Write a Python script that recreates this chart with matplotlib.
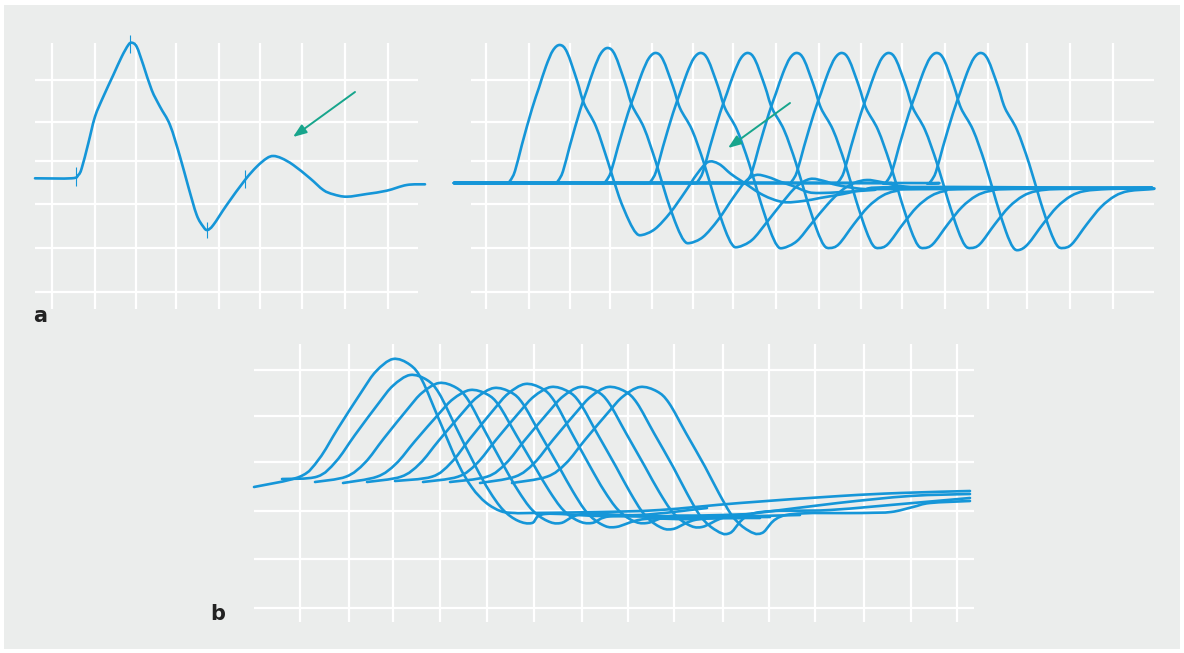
import numpy as np
import matplotlib
matplotlib.use('Agg')
import matplotlib.pyplot as plt
from matplotlib.patches import Rectangle, PathPatch
from matplotlib.path import Path

# all positions are in picture pixels (x to the right, y downwards)
BG = '#ebedec'
BLUE = '#1596d8'
TEAL = '#17a58c'

# ---------------- panel a, left: single trace ----------------
aL_hgrid = [80, 122, 161, 204, 248, 292]
aL_vgrid = [52, 95, 136, 176, 219, 260, 302, 345, 388]
aL_x = [35, 71.7, 78.3, 81.7, 88.3, 95, 103.3, 113.3, 121.7, 128.3, 131.7, 136.7, 143.3, 151.7,
        160, 170, 180, 188.3, 196.7, 203.3, 207.3, 213.3, 226.7, 245, 256.7, 266.7, 273.3,
        281.7, 293.3, 310, 323.3, 333.3, 346.7, 366.7, 386.7, 406.7, 425]
aL_y = [178.3, 178.3, 175, 168.3, 143.3, 116.7, 96.7, 75, 56.7, 45, 42.7, 46.7, 65, 90,
        106.7, 125, 156.7, 186.7, 215, 226.7, 230, 225, 205, 180, 166.7, 158.3, 156,
        158.3, 165, 178.3, 190, 194.3, 196.7, 194, 190.7, 185, 184.3]
aL_marks_x = [76, 130, 207, 245]
aL_marks_top = [167, 35, 222, 170]
aL_marks_bot = [186, 53, 238, 188]
aL_arrow = (355, 92, 293, 137)

# ---------------- panel a, right: ten shifted traces ----------------
aR_hgrid = [80, 122, 161, 204, 248, 292]
aR_vgrid = [486, 529, 570, 610, 652, 693, 733, 776, 819, 861, 902, 945, 988, 1027, 1070, 1113]
aR_base = 183
aR_start, aR_end = 454, 1152
# spike shape, dx from peak, y for the standard trace (peak 53, trough 248)
aR_tpl_dx = [-54, -50, -45, -38, -28, -21, -14, -7, 0, 7, 17, 24, 36, 48, 59, 69, 76, 82]
aR_tpl_y = [183.3, 181, 171.7, 146.7, 113.3, 93.3, 73.3, 58.3, 53.3, 60, 86.7, 108.3, 130,
            163.3, 200, 230, 245, 247.7]
aR_peak_x = [560, 608, 656, 701, 748, 797, 842, 889, 937, 981]
aR_peak_y = [45, 48, 53, 53, 53, 53, 53, 53, 53, 53]
aR_trough_y = [235, 243, 247, 248, 248, 248, 248, 248, 250, 248]
# after-potentials, dx from trough
aR_tail1_dx = [0, 13, 28, 43, 55, 66, 77, 89, 101, 121, 141, 161, 178, 201, 221, 261]
aR_tail1_y = [235, 229, 213, 192, 174, 162, 164, 174, 182, 195, 202, 201, 198, 194, 190, 187]
aR_tail2_dx = [0, 13, 28, 43, 55, 66, 78, 91, 103, 118, 130, 153, 183, 213]
aR_tail2_y = [243, 237, 220, 198, 182, 175, 177, 182, 186, 192, 193, 192, 190, 188]
aR_tail3_dx = [0, 14, 29, 44, 58, 72, 86, 99, 126, 166]
aR_tail3_y = [247, 240, 222, 203, 187, 179, 181, 185, 189, 189]
aR_tail4_dx = [0, 14, 29, 44, 58, 71, 84, 98, 118, 158]
aR_tail4_y = [248, 241, 223, 205, 191, 183, 180, 182, 186, 188]
aR_tail_dx = [0, 9, 24, 38, 52, 66, 90]
aR_tail_y = [248, 244, 224, 207, 196, 191, 189]
aR_end_y = 188
aR_arrow = (790, 103, 728, 148)

# ---------------- panel b: ten shifted traces ----------------
b_hgrid = [370, 416, 462, 511, 559, 608]
b_vgrid = [300, 349, 393, 440, 487, 534, 582, 628, 674, 723, 769, 815, 864, 911, 957]
b_pre = 477
b_tpl_dx = [-93, -74, -55, -31, -17, 0, 17, 29, 46, 65, 79, 93, 108, 122]
b_tpl_y = [476.7, 463.3, 440, 411.7, 396.7, 387.3, 391.7, 403.3, 433.3, 466.7, 493.3,
           516.7, 530, 532.7]
b_start_x = [254, 282, 315, 343, 367, 395, 423, 450, 480, 512]
b_start_y = [487, 479, 482, 483, 482, 481, 482, 482, 483, 483]
b_peak_x = [393, 410, 439, 470, 494, 525, 551, 580, 608, 640]
b_peak_y = [359, 375, 383, 390, 388, 384, 387, 387, 387, 387]
b_trough_y = [513, 523, 523, 523, 527, 523, 529, 527, 533, 533]
b_tails = [
    [(530, 513), (600, 512), (660, 510), (740, 503), (840, 496), (900, 493), (970, 491)],
    [(545, 514), (600, 516), (680, 516), (752, 514)],
    [(583, 514), (640, 515), (707, 508)],
    [(613, 516), (680, 518), (740, 518)],
    [(645, 519), (700, 519), (757, 513), (838, 503), (910, 496), (970, 494)],
    [(672, 516), (720, 517), (770, 517)],
    [(700, 519), (760, 518)],
    [(726, 517), (760, 516), (800, 515)],
    [(755, 513), (830, 510), (913, 503), (970, 498)],
    [(786, 515), (862, 513), (891, 512), (913, 507), (930, 503), (970, 501)],
]

fig = plt.figure(figsize=(11.84, 6.53), dpi=100, facecolor='white')
ax = fig.add_axes([0, 0, 1, 1])
ax.set_xlim(0, 1184)
ax.set_ylim(653, 0)
ax.axis('off')
ax.add_patch(Rectangle((4, 5), 1176, 644, facecolor=BG, edgecolor='none', zorder=0))

gkw = dict(color='white', lw=1.6, zorder=1)


def grid(hs, vs, x0, x1, y0, y1):
    ax.hlines(hs, x0, x1, **gkw)
    ax.vlines(vs, y0, y1, **gkw)


def scale_y(ys, base, k_up, k_dn):
    ys = np.asarray(ys, dtype=float)
    return np.where(ys < base, base - (base - ys) * k_up, base + (ys - base) * k_dn)


def trace(xs, ys):
    # smooth curve through the read points (cubic bezier segments, drawn by the Path)
    p = np.column_stack([xs, ys]).astype(float)
    n = len(p)
    verts = [p[0]]
    codes = [Path.MOVETO]
    for i in range(n - 1):
        p0 = p[i - 1] if i > 0 else p[i]
        p3 = p[i + 2] if i + 2 < n else p[i + 1]
        c1 = p[i] + (p[i + 1] - p0) / 6
        c2 = p[i + 1] - (p3 - p[i]) / 6
        verts += [c1, c2, p[i + 1]]
        codes += [Path.CURVE4] * 3
    ax.add_patch(PathPatch(Path(verts, codes), fill=False, edgecolor=BLUE, lw=1.9,
                           joinstyle='round', capstyle='round', zorder=3))


def arrow(a):
    ax.annotate('', xy=(a[2], a[3]), xytext=(a[0], a[1]),
                arrowprops=dict(arrowstyle='-|>,head_length=0.8,head_width=0.3',
                                color=TEAL, lw=1.4, shrinkA=0, shrinkB=0), zorder=4)


# panel a left
grid(aL_hgrid, aL_vgrid, 35, 418, 43, 309)
trace(aL_x, aL_y)
ax.vlines(aL_marks_x, aL_marks_top, aL_marks_bot, color=BLUE, lw=0.8, zorder=3)
arrow(aL_arrow)
ax.text(33, 316, 'a', fontsize=15, fontweight='bold', color='#222222',
        ha='left', va='center', zorder=5)

# panel a right
grid(aR_hgrid, aR_vgrid, 471, 1154, 43, 309)
tails = [(aR_tail1_dx, aR_tail1_y), (aR_tail2_dx, aR_tail2_y),
         (aR_tail3_dx, aR_tail3_y), (aR_tail4_dx, aR_tail4_y)]
for i in range(len(aR_peak_x)):
    k_up = (aR_base - aR_peak_y[i]) / (aR_base - 53.3)
    k_dn = (aR_trough_y[i] - aR_base) / (247.7 - aR_base)
    sx = aR_peak_x[i] + np.array(aR_tpl_dx)
    sy = scale_y(aR_tpl_y, aR_base, k_up, k_dn)
    tdx, ty = tails[i] if i < len(tails) else (aR_tail_dx, aR_tail_y)
    tx = sx[-1] + np.array(tdx)
    ty = np.array(ty, dtype=float)
    xs = np.concatenate([[aR_start, sx[0] - 30], sx, tx[1:], [aR_end]])
    ys = np.concatenate([[aR_base, aR_base], sy, ty[1:], [aR_end_y]])
    trace(xs, ys)
arrow(aR_arrow)

# panel b
grid(b_hgrid, b_vgrid, 254, 974, 344, 622)
for i in range(len(b_peak_x)):
    k_up = (b_pre - b_peak_y[i]) / (b_pre - 387.3)
    k_dn = (b_trough_y[i] - b_pre) / (532.7 - b_pre)
    sx = b_peak_x[i] + np.array(b_tpl_dx)
    sy = scale_y(b_tpl_y, b_pre, k_up, k_dn)
    tx = [p[0] for p in b_tails[i]]
    ty = [p[1] for p in b_tails[i]]
    xs = np.concatenate([[b_start_x[i]], sx, tx])
    ys = np.concatenate([[b_start_y[i]], sy, ty])
    trace(xs, ys)
ax.text(218, 614, 'b', fontsize=15, fontweight='bold', color='#222222',
        ha='center', va='center', zorder=5)

fig.savefig('out.png', dpi=100, facecolor=fig.get_facecolor())
